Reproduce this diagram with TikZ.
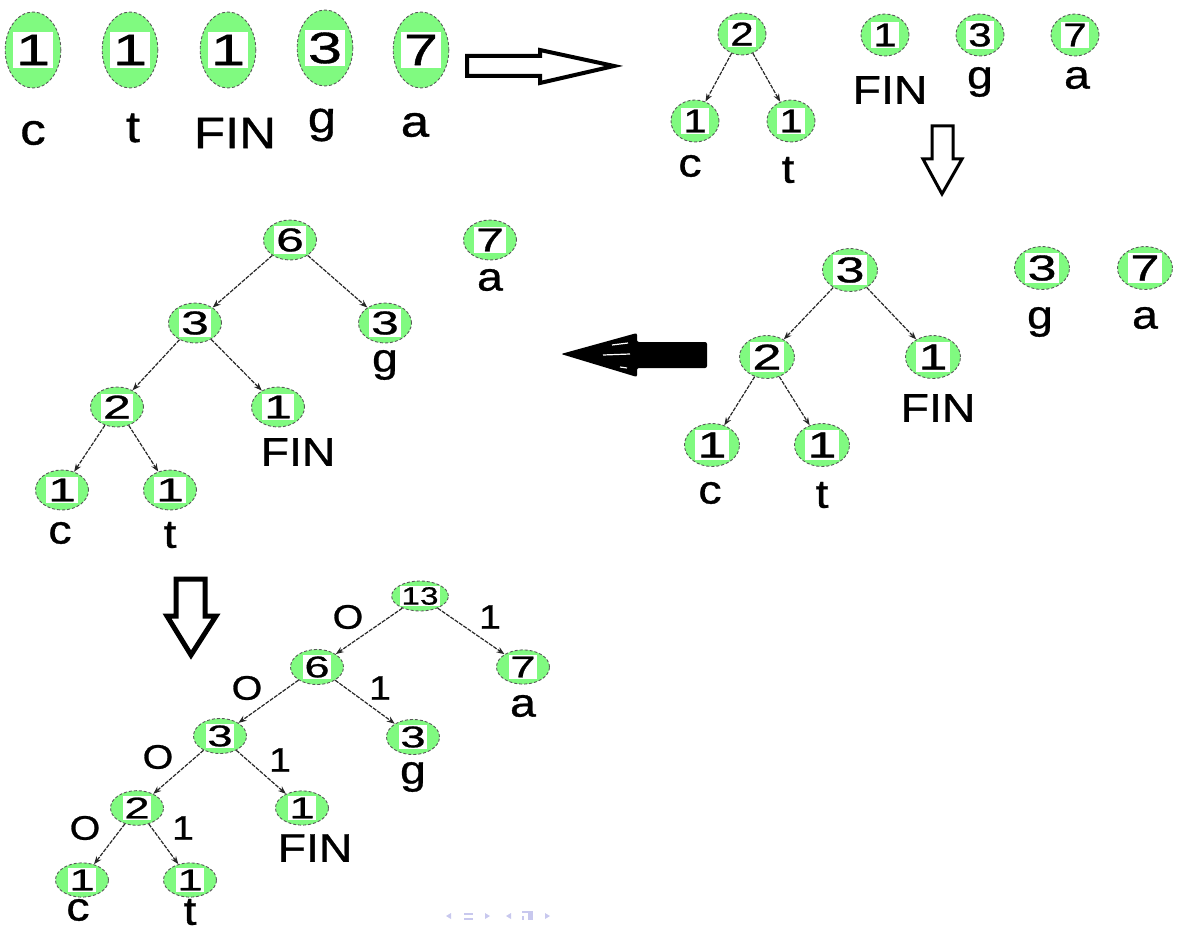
\documentclass[tikz,border=0pt]{standalone}
\usepackage{graphicx}
\usepackage{fontspec}
\setmainfont{Liberation Sans}[FakeStretch=1.16, FakeBold=0.8]
\usetikzlibrary{shapes.geometric,arrows.meta}
\definecolor{nodegreen}{RGB}{128,250,128}
\definecolor{navblue}{RGB}{200,200,238}
% white patch behind the weight, optionally widened
\newcommand{\wt}[2][1]{{\setlength{\fboxsep}{0.06em}\colorbox{white}{\scalebox{#1}[1]{#2}}}}
\newcommand{\fs}[1]{\fontsize{#1}{#1}\selectfont}
\newcommand{\wa}[1]{\wt[1.2]{#1}}
\newcommand{\wb}[1]{\wt[1.1]{#1}}
\newcommand{\wc}[1]{\wt[1.25]{#1}}
\newcommand{\wdd}[1]{\wt[1.3]{#1}}
\newcommand{\we}[1]{\wt[1.3]{#1}}
\tikzset{
  hn/.style={ellipse, draw=black!65, densely dashed, line width=0.9pt,
             fill=nodegreen, inner sep=0pt},
  sa/.style={hn, minimum width=50, minimum height=76, font=\fs{44}},
  sb/.style={hn, minimum width=48, minimum height=42, font=\fs{33}},
  sc/.style={hn, minimum width=55, minimum height=43, font=\fs{36}},
  sd/.style={hn, minimum width=53, minimum height=40, font=\fs{33}},
  se/.style={hn, minimum width=53, minimum height=33, font=\fs{30}},
  lbl/.style={inner sep=0pt, font=\fs{40}},
  lbla/.style={inner sep=0pt, font=\fs{44}},
  bit/.style={inner sep=0pt, font=\fs{34}},
  tedge/.style={-{Stealth[length=8pt,width=6pt]}, draw=black!85,
                line width=1.2pt, dash pattern=on 4pt off 1.2pt},
  hollow/.style={draw=black, line join=miter, fill=white},
  nav/.style={fill=navblue, draw=none},
}
\begin{document}
\begin{tikzpicture}[x=1pt, y=-1pt]
\useasboundingbox (0,0) rectangle (1183,928);

% ---- initial forest ----
\node[sa] (a1) at (33,50)  {\wa{1}};
\node[sa] (a2) at (130,50) {\wa{1}};
\node[sa] (a3) at (228,50) {\wa{1}};
\node[sa] (a4) at (325,48) {\wa{3}};
\node[sa] (a5) at (421,50) {\wa{7}};
\node[lbla] (la1) at (33,133)  {c};
\node[lbla] (la2) at (133,128) {t};
\node[lbla] (la3) at (235,133) {FIN};
\node[lbla] (la4) at (322,125) {g};
\node[lbla] (la5) at (415,125) {a};

\draw[hollow, line width=4pt] (467,56) -- (540,56) -- (540,50) -- (614,66)
  -- (540,83) -- (540,76) -- (467,76) -- cycle;

% ---- step 1 ----
\node[sb] (b1) at (742,34)  {\wb{2}};
\node[sb] (b2) at (695,121) {\wb{1}};
\node[sb] (b3) at (791,121) {\wb{1}};
\node[sb] (b4) at (885,35)  {\wb{1}};
\node[sb] (b5) at (980,35)  {\wb{3}};
\node[sb] (b6) at (1075,35) {\wb{7}};
\draw[tedge] (b1) -- (b2);
\draw[tedge] (b1) -- (b3);
\node[lbl] (lb2) at (690,166) {c};
\node[lbl] (lb3) at (788,170) {t};
\node[lbl] (lb4) at (890,90)  {FIN};
\node[lbl] (lb5) at (980,82)  {g};
\node[lbl] (lb6) at (1077,78) {a};

\draw[hollow, line width=3pt] (932,126) -- (953,126) -- (953,159) -- (962,159)
  -- (942,194) -- (923,159) -- (932,159) -- cycle;

% ---- step 2 ----
\node[sc] (c1) at (850,270) {\wc{3}};
\node[sc] (c2) at (767,357) {\wc{2}};
\node[sc] (c3) at (933,357) {\wc{1}};
\node[sc] (c4) at (712,445) {\wc{1}};
\node[sc] (c5) at (822,445) {\wc{1}};
\node[sc] (c6) at (1042,268) {\wc{3}};
\node[sc] (c7) at (1145,268) {\wc{7}};
\draw[tedge] (c1) -- (c2);
\draw[tedge] (c1) -- (c3);
\draw[tedge] (c2) -- (c4);
\draw[tedge] (c2) -- (c5);
\node[lbl] (lc3) at (938,408)  {FIN};
\node[lbl] (lc4) at (710,493)  {c};
\node[lbl] (lc5) at (822,495)  {t};
\node[lbl] (lc6) at (1040,322) {g};
\node[lbl] (lc7) at (1145,318) {a};

\fill[black, rounded corners=2pt] (707,342) -- (707,368) -- (637,368)
  -- (637,377) -- (561,354) -- (637,333) -- (637,342) -- cycle;
\draw[white, line width=1.2pt] (612,345) -- (628,343);
\draw[white, line width=1.2pt] (603,355) -- (630,354);
\draw[white, line width=1.2pt] (620,367) -- (627,368);

% ---- step 3 ----
\node[sd] (d1) at (290,240) {\wdd{6}};
\node[sd] (d2) at (195,323) {\wdd{3}};
\node[sd] (d3) at (385,323) {\wdd{3}};
\node[sd] (d4) at (117,407) {\wdd{2}};
\node[sd] (d5) at (278,407) {\wdd{1}};
\node[sd] (d6) at (62,490)  {\wdd{1}};
\node[sd] (d7) at (170,490) {\wdd{1}};
\node[sd] (d8) at (490,240) {\wdd{7}};
\draw[tedge] (d1) -- (d2);
\draw[tedge] (d1) -- (d3);
\draw[tedge] (d2) -- (d4);
\draw[tedge] (d2) -- (d5);
\draw[tedge] (d4) -- (d6);
\draw[tedge] (d4) -- (d7);
\node[lbl] (ld3) at (385,365) {g};
\node[lbl] (ld5) at (298,452) {FIN};
\node[lbl] (ld6) at (60,533)  {c};
\node[lbl] (ld7) at (170,535) {t};
\node[lbl] (ld8) at (490,280) {a};

\draw[hollow, line width=5pt] (176,579) -- (205,579) -- (205,616) -- (216,616)
  -- (191,655) -- (167,616) -- (176,616) -- cycle;

% ---- final tree ----
\node[se, minimum width=56, minimum height=30, font=\fs{25}] (e1) at (420,596) {\wt[1.15]{13}};
\node[se] (e2) at (317,667) {\we{6}};
\node[se] (e3) at (523,667) {\we{7}};
\node[se] (e4) at (220,736) {\we{3}};
\node[se] (e5) at (413,737) {\we{3}};
\node[se] (e6) at (137,808) {\we{2}};
\node[se] (e7) at (302,808) {\we{1}};
\node[se] (e8) at (82,880)  {\we{1}};
\node[se] (e9) at (190,880) {\we{1}};
\draw[tedge] (e1) -- (e2);
\draw[tedge] (e1) -- (e3);
\draw[tedge] (e2) -- (e4);
\draw[tedge] (e2) -- (e5);
\draw[tedge] (e4) -- (e6);
\draw[tedge] (e4) -- (e7);
\draw[tedge] (e6) -- (e8);
\draw[tedge] (e6) -- (e9);
\node[lbl] (le3) at (523,706) {a};
\node[lbl] (le5) at (413,777) {g};
\node[lbl] (le7) at (315,848) {FIN};
\node[lbl] (le8) at (78,910)  {c};
\node[lbl] (le9) at (190,912) {t};
\node[bit] (o1) at (348,617) {O};
\node[bit] (i1) at (490,617) {1};
\node[bit] (o2) at (247,688) {O};
\node[bit] (i2) at (380,688) {1};
\node[bit] (o3) at (158,757) {O};
\node[bit] (i3) at (280,760) {1};
\node[bit] (o4) at (85,828)  {O};
\node[bit] (i4) at (183,828) {1};

% ---- navigation symbols ----
\fill[nav] (446,916) -- (451,913) -- (451,919) -- cycle;
\fill[nav] (464,913) rectangle (473,914.5);
\fill[nav] (464,918) rectangle (473,919.5);
\fill[nav] (490,916) -- (485,913) -- (485,919) -- cycle;
\fill[nav] (506,916) -- (511,913) -- (511,919) -- cycle;
\fill[nav] (522,911) rectangle (533,913);
\fill[nav] (528,913) rectangle (533,920);
\fill[nav] (522,916) rectangle (524,920);
\fill[nav] (550,916) -- (545,913) -- (545,919) -- cycle;
\end{tikzpicture}
\end{document}
